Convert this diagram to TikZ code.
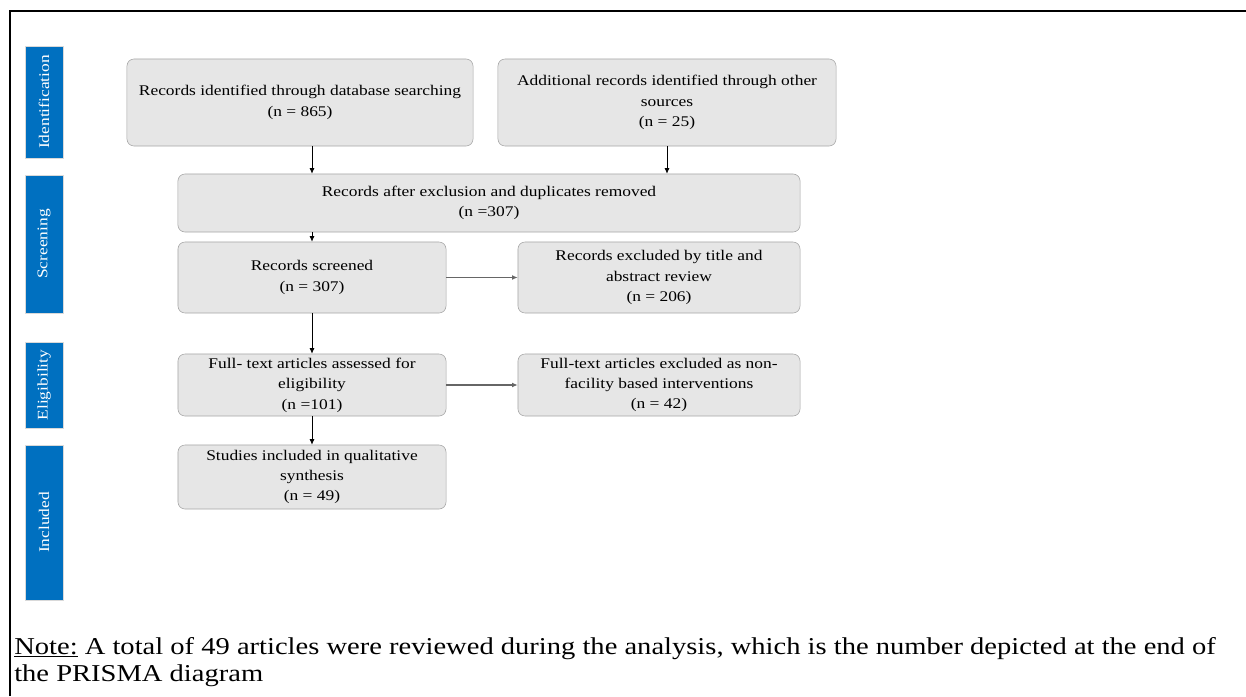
\documentclass[tikz,border=0pt]{standalone}
\usepackage{fontspec}
\setmainfont{Liberation Serif}[FakeStretch=1.18]
\usepackage{xcolor}
\usepackage{tikz}
\usetikzlibrary{arrows.meta,positioning,calc}

\definecolor{tabblue}{RGB}{0,112,192}
\definecolor{boxgray}{RGB}{230,230,230}
\definecolor{boxline}{RGB}{165,165,165}

\begin{document}
\begin{tikzpicture}[x=0.025cm, y=-0.025cm,
		box/.style={draw=boxline, fill=boxgray, rounded corners=5pt, align=center,
			font=\fontsize{10.5}{14.5}\selectfont, inner sep=2pt},
		tab/.style={fill=tabblue, draw=black!15, rotate=90, minimum height=0.95cm,
			text=white, font=\fontsize{10.5}{12}\selectfont, inner sep=0pt},
		arr/.style={-{Latex[length=4pt,width=3.5pt]}, line width=0.5pt},
		sidearr/.style={-{Latex[length=4pt,width=3.5pt]}, line width=0.9pt, black!60}]
		\useasboundingbox (0,0) rectangle (1246,696);

		% frame
		\draw[line width=2.1pt] (10,696) -- (10,11) -- (1246,11);

		% phase tabs
		\node[tab, minimum width=2.8cm] (tabid) at (44,102) {Identification};
		\node[tab, minimum width=3.45cm] (tabscr) at (44,244) {Screening};
		\node[tab, minimum width=2.15cm] (tabelig) at (44,385) {Eligibility};
		\node[tab, minimum width=3.875cm] (tabincl) at (44,522.5) {Included};

		% boxes
		\node[box, minimum width=8.65cm, minimum height=2.175cm] (dbsearch) at (300,102.5)
			{Records identified through database searching\\(n = 865)};
		\node[box, minimum width=8.45cm, minimum height=2.175cm] (othersrc) at (667,102.5)
			{Additional records identified through other\\sources\\(n = 25)};
		\node[box, minimum width=15.55cm, minimum height=1.45cm] (dedup) at (489,203)
			{Records after exclusion and duplicates removed\\(n =307)};
		\node[box, minimum width=6.7cm, minimum height=1.775cm] (screened) at (312,277.5)
			{Records screened\\(n = 307)};
		\node[box, minimum width=7.05cm, minimum height=1.775cm] (exclabs) at (659,277.5)
			{Records excluded  by title and\\abstract review\\(n = 206)};
		\node[box, minimum width=6.7cm, minimum height=1.55cm] (fulltext) at (312,385)
			{Full- text articles assessed for\\eligibility\\(n =101)};
		\node[box, minimum width=7.05cm, minimum height=1.55cm] (exclfull) at (659,385)
			{Full-text articles excluded as non-\\facility based interventions\\(n = 42)};
		\node[box, minimum width=6.7cm, minimum height=1.6cm] (studies) at (312,477)
			{Studies included in qualitative\\synthesis\\(n = 49)};

		% connectors
		\draw[arr] (dbsearch.south -| screened.north) -- (dedup.north -| screened.north);
		\draw[arr] (othersrc.south) -- (othersrc.south |- dedup.north);
		\draw[arr] (dedup.south -| screened.north) -- (screened.north);
		\draw[arr] (screened.south) -- (fulltext.north);
		\draw[arr] (fulltext.south) -- (studies.north);
		\draw[sidearr] (screened.east) -- (exclabs.west);
		\draw[sidearr] (fulltext.east) -- (exclfull.west);

		% note
		\node[anchor=base west, inner sep=0pt, align=left, font=\fontsize{17.2}{19.2}\selectfont] (note) at (14,681)
			{\underline{Note:} A total of 49 articles were reviewed during the analysis, which is the number depicted at the end of\\the PRISMA diagram};
	\end{tikzpicture}
\end{document}
